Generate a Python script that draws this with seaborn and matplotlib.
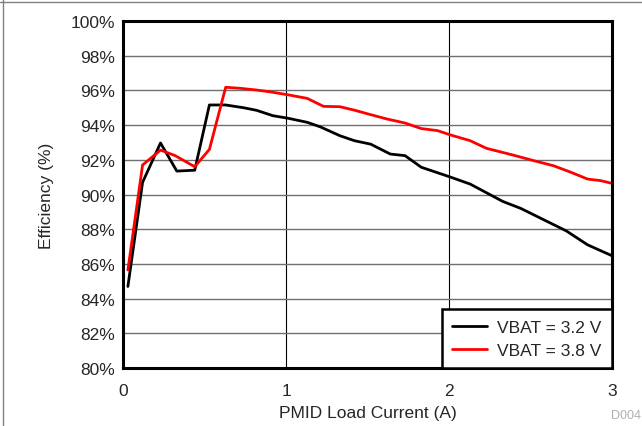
import matplotlib
matplotlib.use("Agg")
import matplotlib.pyplot as plt
from matplotlib.lines import Line2D
import numpy as np
import pandas as pd
import seaborn as sns


# data
current_32 = [0.03, 0.12, 0.23, 0.33, 0.44, 0.53, 0.63, 0.74, 0.82, 0.92, 1.01, 1.13,
              1.21, 1.33, 1.42, 1.52, 1.64, 1.73, 1.83, 2.01, 2.13, 2.33, 2.44, 2.72,
              2.85, 3.0]
eff_32 = [84.7, 90.7, 92.97, 91.35, 91.4, 95.16, 95.16, 95.0, 94.85, 94.54, 94.4, 94.16,
          93.9, 93.39, 93.1, 92.9, 92.33, 92.24, 91.57, 91.0, 90.6, 89.6, 89.2, 87.9,
          87.1, 86.47]
current_38 = [0.03, 0.12, 0.23, 0.32, 0.44, 0.53, 0.63, 0.72, 0.82, 0.9, 1.01, 1.13,
              1.23, 1.33, 1.42, 1.52, 1.62, 1.73, 1.83, 1.93, 2.01, 2.13, 2.23, 2.39,
              2.52, 2.64, 2.74, 2.85, 2.93, 3.0]
eff_38 = [85.65, 91.7, 92.56, 92.24, 91.6, 92.6, 96.18, 96.12, 96.02, 95.92, 95.75, 95.54,
          95.08, 95.06, 94.86, 94.6, 94.35, 94.12, 93.8, 93.68, 93.43, 93.1, 92.66, 92.28,
          91.95, 91.66, 91.31, 90.89, 90.8, 90.64]
series_names = ["VBAT = 3.2 V", "VBAT = 3.8 V"]
x_ticks = [0, 1, 2, 3]
y_ticks = list(range(80, 101, 2))


df = pd.concat([
    pd.DataFrame({"current": current_32, "eff": eff_32, "series": series_names[0]}),
    pd.DataFrame({"current": current_38, "eff": eff_38, "series": series_names[1]}),
])

sns.set_style("white")
plt.rcParams["font.family"] = ["Liberation Sans", "DejaVu Sans"]

fig = plt.figure(figsize=(6.42, 4.27), dpi=100)
ax = fig.add_axes([0.1916, 0.1358, 0.9533 - 0.1916, 0.9485 - 0.1358])

sns.lineplot(data=df, x="current", y="eff", hue="series", sort=False,
             palette={series_names[0]: "black", series_names[1]: "#ff0000"},
             linewidth=2, ax=ax, estimator=None)

ax.set_xlim(0, 3)
ax.set_ylim(80, 100)
ax.set_xticks(x_ticks)
ax.set_yticks(y_ticks)
ax.set_yticklabels([f"{v}%" for v in y_ticks])
ax.tick_params(axis="both", length=0, labelsize=12.5)
ax.tick_params(axis="x", pad=11)
ax.tick_params(axis="y", pad=6)
ax.set_xlabel("PMID Load Current (A)", fontsize=12.5, labelpad=5)
ax.set_ylabel("Efficiency (%)", fontsize=12.5, labelpad=12)

ax.yaxis.grid(True, color="#707070", linewidth=1)
ax.xaxis.grid(True, color="black", linewidth=0.8)
ax.set_axisbelow(True)
for spine in ax.spines.values():
    spine.set_visible(True)
    spine.set_color("black")
    spine.set_linewidth(2.2)

leg = ax.legend(loc="lower right", fontsize=12.5, frameon=True, fancybox=False,
                borderaxespad=0, handlelength=2.0, labelspacing=0.45,
                borderpad=0.6, handletextpad=0.6)
leg.get_frame().set_edgecolor("black")
leg.get_frame().set_linewidth(1.8)
leg.get_frame().set_alpha(1)

fig.text(0.998, 0.012, "D004", color="#b0b0b0", fontsize=9, ha="right", va="bottom")

# thin frame on top and left edges
fig.add_artist(Line2D([0, 1], [0.993, 0.993], color="#808080", linewidth=1,
                      transform=fig.transFigure))
fig.add_artist(Line2D([0.004, 0.004], [0, 1], color="#808080", linewidth=1,
                      transform=fig.transFigure))

fig.savefig("out.png", dpi=100)
